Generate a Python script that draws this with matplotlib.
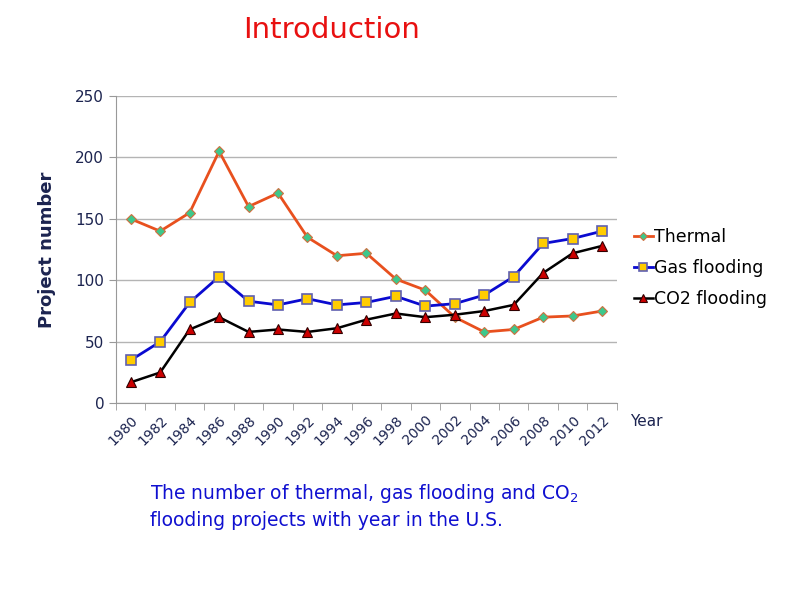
import numpy as np
import matplotlib
matplotlib.use('Agg')
import matplotlib.pyplot as plt

years = ['1980', '1982', '1984', '1986', '1988', '1990', '1992', '1994', '1996',
         '1998', '2000', '2002', '2004', '2006', '2008', '2010', '2012']
thermal = [150, 140, 155, 205, 160, 171, 135, 120, 122, 101, 92, 70, 58, 60, 70, 71, 75]
gas = [35, 50, 82, 103, 83, 80, 85, 80, 82, 87, 79, 81, 88, 103, 130, 134, 140]
co2 = [17, 25, 60, 70, 58, 60, 58, 61, 68, 73, 70, 72, 75, 80, 106, 122, 128]

navy = '#1c2450'

fig = plt.figure(figsize=(8, 6), dpi=100)
ax = fig.add_axes([0.145, 0.328, 0.626, 0.512])

x = np.arange(len(years))
ax.plot(x, thermal, color='#e8501e', lw=2, marker='D', ms=5,
        mfc='#3cc88c', mec='#d07040', mew=0.8, label='Thermal')
ax.plot(x, gas, color='#0a0ad0', lw=2, marker='s', ms=7,
        mfc='#ffcc00', mec='#6060b0', mew=1.2, label='Gas flooding')
ax.plot(x, co2, color='black', lw=1.8, marker='^', ms=7,
        mfc='#cc0000', mec='#300000', mew=0.8, label='CO2 flooding')

ax.set_xlim(-0.5, len(years) - 0.5)
ax.set_ylim(0, 250)
ax.set_yticks(range(0, 251, 50))
ax.set_xticks(x)
ax.set_xticklabels(years, rotation=45, ha='right', rotation_mode='anchor',
                   fontsize=10, color=navy)
ax.set_xticks(np.arange(-0.5, len(years), 1), minor=True)
ax.tick_params(axis='x', which='major', length=0, pad=7)
ax.tick_params(axis='x', which='minor', length=5, color='#999999')
ax.tick_params(axis='y', length=5, color='#999999', labelsize=11, labelcolor=navy)

ax.grid(axis='y', color='#b4b4b4', lw=1)
ax.set_axisbelow(True)
for s in ['top', 'right']:
    ax.spines[s].set_visible(False)
for s in ['left', 'bottom']:
    ax.spines[s].set_color('#999999')

ax.set_ylabel('Project number', fontsize=13, fontweight='bold', color=navy, labelpad=14)

leg = ax.legend(loc='center left', bbox_to_anchor=(1.02, 0.44), frameon=False,
                fontsize=12.5, handlelength=1.1, handletextpad=0.05, labelspacing=0.75,
                borderaxespad=0, markerscale=0.8)

fig.text(0.787, 0.298, 'Year', fontsize=11, color=navy, va='center')
fig.text(0.414, 0.95, 'Introduction', fontsize=21, color='#e81010', ha='center', va='center')
fig.text(0.188, 0.177, 'The number of thermal, gas flooding and CO$_2$',
         fontsize=13.5, color='#1010d0', va='center')
fig.text(0.188, 0.133, 'flooding projects with year in the U.S.',
         fontsize=13.5, color='#1010d0', va='center')

fig.savefig('out.png', dpi=100)
